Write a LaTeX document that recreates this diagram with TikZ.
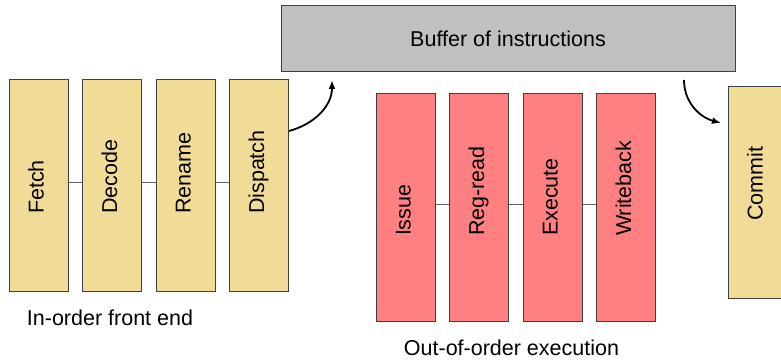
\documentclass[tikz,border=0pt]{standalone}
\usepackage{fontspec}
\setmainfont{Liberation Sans}
\usetikzlibrary{positioning, arrows.meta}
\definecolor{stageyellow}{RGB}{240,220,150}
\definecolor{stagered}{RGB}{255,128,128}
\definecolor{buffergray}{RGB}{192,192,192}
\newcommand{\stagetext}[1]{\rotatebox{90}{\makebox[56pt][l]{\strut#1}}}

\begin{document}
\begin{tikzpicture}[x=1pt, y=1pt, node distance={13.5pt}, font=\fontsize{21.5}{26}\selectfont,
  box/.style = {draw=black!75, line width=1pt, inner sep=0pt, minimum width=59pt},
  front/.style = {box, fill=stageyellow, minimum height=212pt},
  ooo/.style = {box, fill=stagered, minimum height=228pt},
  link/.style = {draw=black!60, line width=0.8pt},
  flow/.style = {-{Latex[length=9pt,width=7pt]}, line width=1.8pt}]
\useasboundingbox (0,0) rectangle (781,361);
% in-order front end
\node[front] (fetch) at (38.5,175) {\stagetext{Fetch}};
\node[front] (decode) [right=of fetch] {\stagetext{Decode}};
\node[front] (rename) [right=of decode] {\stagetext{Rename}};
\node[front] (dispatch) [right=of rename] {\stagetext{Dispatch}};
\draw[link] ([yshift=4pt]fetch.east) -- ([yshift=4pt]decode.west);
\draw[link] ([yshift=4pt]decode.east) -- ([yshift=4pt]rename.west);
\draw[link] ([yshift=4pt]rename.east) -- ([yshift=4pt]dispatch.west);
\node (frontlabel) at (110,43) {In-order front end};
% buffer
\node[box, fill=buffergray, minimum width=454pt, minimum height=66pt] (buffer) at (508,322) {Buffer of instructions};
% out-of-order execution
\node[ooo] (issue) at (405.5,153) {\stagetext{Issue}};
\node[ooo] (regread) [right=of issue] {\stagetext{Reg-read}};
\node[ooo] (execute) [right=of regread] {\stagetext{Execute}};
\node[ooo] (writeback) [right=of execute] {\stagetext{Writeback}};
\draw[link] ([yshift=4pt]issue.east) -- ([yshift=4pt]regread.west);
\draw[link] ([yshift=4pt]regread.east) -- ([yshift=4pt]execute.west);
\draw[link] ([yshift=4pt]execute.east) -- ([yshift=4pt]writeback.west);
\node (ooolabel) at (511.5,13) {Out-of-order execution};
% commit
\node[front] (commit) at (757.5,168) {\stagetext{Commit}};
% arrows in and out of the buffer
\coordinate (bufin) at (332,281);
\coordinate (bufout) at (684,281);
\coordinate (commitin) at (721,238);
\draw[flow] ([yshift=55pt]dispatch.east) to [out=15,in=-90,looseness=1] (bufin);
\draw[flow] (bufout) to [out=-90,in=165,looseness=1] (commitin);
\end{tikzpicture}
\end{document}
